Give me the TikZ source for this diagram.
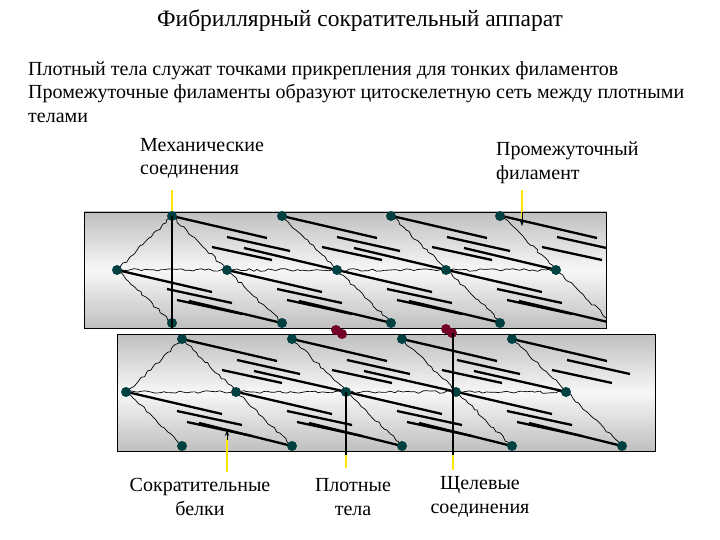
\documentclass[tikz,border=0pt]{standalone}
\usepackage{fontspec}
\setmainfont{Liberation Serif}
\usetikzlibrary{decorations.pathmorphing,arrows.meta}
\begin{document}
\begin{tikzpicture}[x=1pt,y=-1pt,
  cell/.style={draw=black,line width=0.8pt,top color=black!25,bottom color=black!25,middle color=black!3},
  dense/.style={circle,fill=teal!50!black,inner sep=0pt,minimum size=10pt},
  gap/.style={circle,fill=purple!60!black,inner sep=0pt,minimum size=10pt},
  actin/.style={line width=2.3pt},
  ifil/.style={line width=0.7pt,decorate,decoration={random steps,segment length=4pt,amplitude=1.3pt}},
  pointer/.style={yellow!90!orange,line width=1.2pt},
  lbl/.style={font=\fontsize{20pt}{23.5pt}\selectfont,align=center}]
\pgfmathsetseed{7}
\useasboundingbox (0,0) rectangle (720,540);
\node[font=\fontsize{23.5pt}{26pt}\selectfont] (title) at (360,21) {Фибриллярный сократительный аппарат};
\node[lbl,anchor=north west,align=left,inner sep=0pt] (txt) at (28,61) {Плотный тела служат точками прикрепления для тонких филаментов\\Промежуточные филаменты образуют цитоскелетную сеть между плотными\\телами};
% cells
\draw[cell] (84,212) rectangle (606,328);
\draw[cell] (117,334) rectangle (655,451);
\foreach \yt/\ym/\yb/\xo/\xe/\xl/\xr in {216/270/323/0/556/84/606, 339/392/446/10/566/117/655}{
  \begin{scope}
  \clip (\xl,\yt-5) rectangle (\xr,\yb+5);
  \draw[ifil] (117+\xo,\ym) -- (\xe,\ym);
  \draw[ifil] (117+\xo,\ym) -- (172+\xo,\yt);
  \draw[ifil] (117+\xo,\ym) -- (172+\xo,\yb);
  \foreach \i in {0,...,3}{
    \pgfmathsetmacro\xt{172+\xo+110*\i}
    \pgfmathsetmacro\xm{117+\xo+110*\i}
    \pgfmathsetmacro\xn{\xt+55}
    \pgfmathsetmacro\xb{\xt+110}
    \draw[ifil] (\xt,\yt) -- (\xn,\ym);
    \draw[ifil] (\xn,\ym) -- (\xb,\yb);
    % actin upper
    \draw[actin] (\xt,\yt) -- (\xt+95,\yt+22);
    \ifnum\i<3 \draw[actin] (\xt+72,\yt+32) -- (\xt+165,\ym);\fi
    \draw[actin] (\xt+55,\yt+21) -- (\xt+118,\yt+35);
    \draw[actin] (\xt+40,\yt+31) -- (\xt+100,\yt+44);
    % actin lower
    \draw[actin] (\xm,\ym) -- (\xm+95,\ym+22);
    \draw[actin] (\xm+72,\ym+31) -- (\xb,\yb);
    \draw[actin] (\xm+50,\ym+19) -- (\xm+115,\ym+33);
    \draw[actin] (\xm+60,\ym+30) -- (\xm+125,\ym+44);
  }
  \end{scope}
}
% dense bodies
\foreach \x in {172,282,391,500} {\node[dense] at (\x,216) {}; \node[dense] at (\x,323) {};}
\foreach \x in {117,227,337,446,556} \node[dense] at (\x,270) {};
\foreach \x in {182,292,402,512} \node[dense] at (\x,339) {};
\foreach \x in {126,236,346,456,566} \node[dense] at (\x,392) {};
\foreach \x in {182,292,402,512,622} \node[dense] at (\x,446) {};
% gap junctions
\node[gap] (g1) at (336,330) {}; \node[gap] at (342,334) {};
\node[gap] (g2) at (446,329) {}; \node[gap] at (452,333) {};
% vertical connections
\draw[line width=1.3pt] (172,216) -- (172,328);
\draw[line width=1.3pt] (346,392) -- (346,455);
\draw[line width=1.3pt] (453,333) -- (453,455);
% labels and pointers
\node[lbl,anchor=north west,align=left,inner sep=0pt] (mech) at (140,138) {Механические\\соединения};
\draw[pointer] (172,190) -- (172,211);
\node[lbl,anchor=north west,align=left,inner sep=0pt] (pf) at (496,142) {Промежуточный\\филамент};
\draw[pointer] (522,190) -- (522,218);
\draw[-{Stealth[length=6pt]},line width=0.8pt] (522,212) -- (522,226);
\node[lbl] (sb) at (200,497) {Сократительные\\белки};
\draw[pointer] (227,472) -- (227,438);
\draw[-{Stealth[length=6pt]},line width=0.8pt] (227,440) -- (227,430);
\node[lbl] (pt) at (353,497) {Плотные\\тела};
\draw[pointer] (346,455) -- (346,468);
\node[lbl] (sc) at (480,497) {Щелевые\\соединения};
\draw[pointer] (453,455) -- (453,470);
\end{tikzpicture}
\end{document}
